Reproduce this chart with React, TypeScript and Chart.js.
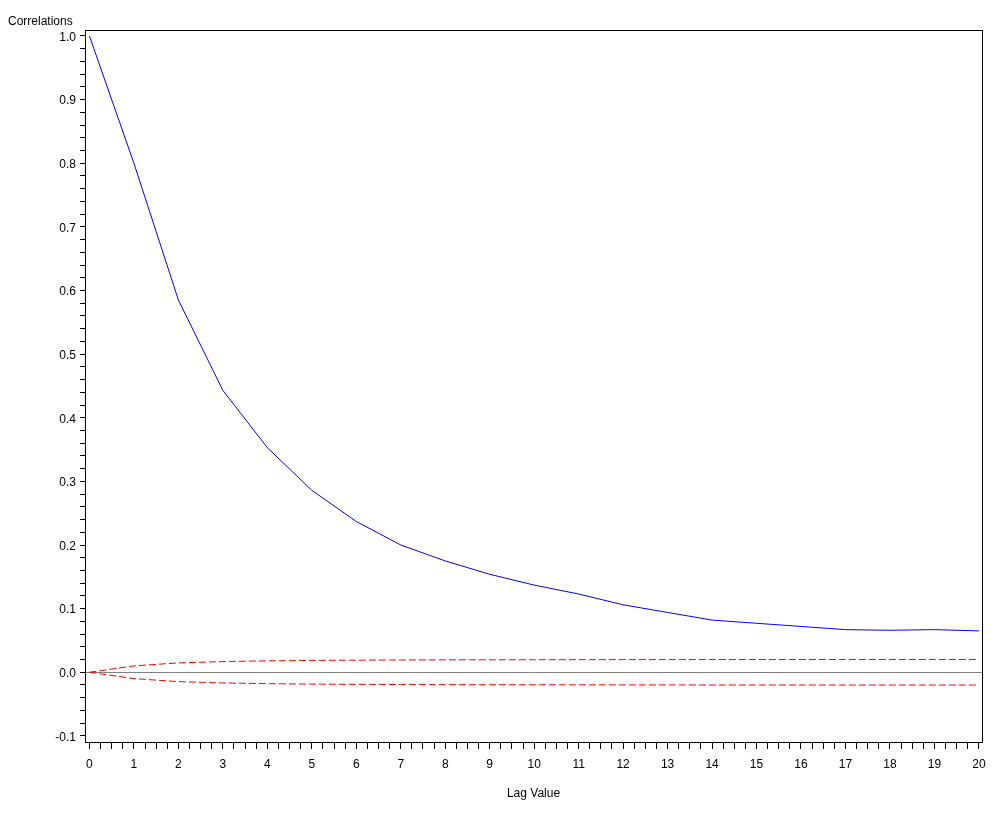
import React, { useEffect, useRef } from 'react';
import { Chart, registerables } from 'chart.js';

Chart.register(...registerables);

// ---- Data ----
const lags = [0, 1, 2, 3, 4, 5, 6, 7, 8, 9, 10, 11, 12, 13, 14, 15, 16, 17, 18, 19, 20];
const correlations = [1.0, 0.8, 0.585, 0.443, 0.353, 0.286, 0.237, 0.2, 0.175, 0.154, 0.137, 0.123, 0.106, 0.094, 0.082, 0.077, 0.072, 0.067, 0.066, 0.067, 0.065];
const upperBand = [0, 0.01, 0.0147, 0.0168, 0.0179, 0.0186, 0.019, 0.0193, 0.0195, 0.0196, 0.0197, 0.0198, 0.0199, 0.0199, 0.02, 0.02, 0.02, 0.0201, 0.0201, 0.0201, 0.0201];
const lowerBand = [0, -0.01, -0.0147, -0.0168, -0.0179, -0.0186, -0.019, -0.0193, -0.0195, -0.0196, -0.0197, -0.0198, -0.0199, -0.0199, -0.02, -0.02, -0.02, -0.0201, -0.0201, -0.0201, -0.0201];

// ---- Ticks ----
const yMajorTicks = [-0.1, 0, 0.1, 0.2, 0.3, 0.4, 0.5, 0.6, 0.7, 0.8, 0.9, 1.0];
const yTickLabels = ['-0.1', '0.0', '0.1', '0.2', '0.3', '0.4', '0.5', '0.6', '0.7', '0.8', '0.9', '1.0'];
const yMinorDivisions = 5;
const xMajorTicks = [0, 1, 2, 3, 4, 5, 6, 7, 8, 9, 10, 11, 12, 13, 14, 15, 16, 17, 18, 19, 20];
const xTickLabels = ['0', '1', '2', '3', '4', '5', '6', '7', '8', '9', '10', '11', '12', '13', '14', '15', '16', '17', '18', '19', '20'];
const xMinorDivisions = 4;

const Y_MIN = -0.1096;
const Y_MAX = 1.0094;
const X_MIN = -0.1;
const X_MAX = 20.07;

const FONT = '"Liberation Sans", Arial, sans-serif';

function withMinor(majors: number[], div: number) {
  const out: { value: number }[] = [];
  for (let i = 0; i < majors.length; i++) {
    out.push({ value: majors[i] });
    if (i < majors.length - 1) {
      const step = (majors[i + 1] - majors[i]) / div;
      for (let k = 1; k < div; k++) out.push({ value: majors[i] + k * step });
    }
  }
  return out;
}

function labelFor(value: number, majors: number[], labels: string[]) {
  for (let i = 0; i < majors.length; i++) {
    if (Math.abs(majors[i] - value) < 1e-6) return labels[i];
  }
  return '';
}

const chartDecor = {
  id: 'chartDecor',
  beforeDatasetsDraw(chart: any) {
    const { ctx, chartArea, scales } = chart;
    const y0 = Math.round(scales.y.getPixelForValue(0)) + 0.5;
    ctx.save();
    ctx.strokeStyle = '#808080';
    ctx.lineWidth = 1;
    ctx.beginPath();
    ctx.moveTo(chartArea.left, y0);
    ctx.lineTo(chartArea.right, y0);
    ctx.stroke();
    ctx.restore();
  },
  afterDraw(chart: any) {
    const { ctx, chartArea } = chart;
    ctx.save();
    ctx.strokeStyle = '#000';
    ctx.lineWidth = 1;
    const l = Math.round(chartArea.left) + 0.5;
    const t = Math.round(chartArea.top) + 0.5;
    const r = Math.round(chartArea.right) + 0.5;
    const b = Math.round(chartArea.bottom) + 0.5;
    ctx.strokeRect(l, t, r - l, b - t);
    ctx.fillStyle = '#000';
    ctx.font = '12px ' + FONT;
    ctx.textAlign = 'left';
    ctx.textBaseline = 'middle';
    ctx.fillText('Correlations', 8, 22);
    ctx.restore();
  },
};

export default function App() {
  const canvasRef = useRef<HTMLCanvasElement | null>(null);

  useEffect(() => {
    if (!canvasRef.current) return;
    const chart = new Chart(canvasRef.current, {
      type: 'line',
      data: {
        datasets: [
          {
            label: 'Correlations',
            data: lags.map((x, i) => ({ x, y: correlations[i] })),
            borderColor: '#0000ff',
            borderWidth: 1,
            pointRadius: 0,
            tension: 0,
            fill: false,
          },
          {
            label: 'Upper',
            data: lags.map((x, i) => ({ x, y: upperBand[i] })),
            borderColor: '#ff0000',
            borderWidth: 1,
            borderDash: [7, 3],
            pointRadius: 0,
            tension: 0,
            fill: false,
          },
          {
            label: 'Lower',
            data: lags.map((x, i) => ({ x, y: lowerBand[i] })),
            borderColor: '#ff0000',
            borderWidth: 1,
            borderDash: [7, 3],
            pointRadius: 0,
            tension: 0,
            fill: false,
          },
        ],
      },
      options: {
        animation: false,
        responsive: false,
        maintainAspectRatio: false,
        layout: { padding: { left: 0, top: 30, right: 18, bottom: 0 } },
        plugins: {
          legend: { display: false },
          tooltip: { enabled: false },
          title: { display: false },
        },
        scales: {
          x: {
            type: 'linear',
            min: X_MIN,
            max: X_MAX,
            afterBuildTicks: (scale: any) => {
              scale.ticks = withMinor(xMajorTicks, xMinorDivisions);
            },
            afterFit: (scale: any) => {
              scale.height = 77;
            },
            grid: {
              display: true,
              drawOnChartArea: false,
              drawTicks: true,
              tickLength: 7,
              color: '#000',
              lineWidth: 1,
            },
            border: { display: true, color: '#000', width: 1 },
            ticks: {
              autoSkip: false,
              maxRotation: 0,
              minRotation: 0,
              padding: 8,
              color: '#000',
              font: { family: FONT, size: 12 },
              callback: (v: any) => labelFor(Number(v), xMajorTicks, xTickLabels),
            },
            title: {
              display: true,
              text: 'Lag Value',
              color: '#000',
              font: { family: FONT, size: 12 },
              padding: { top: 0, bottom: 18 },
            },
          },
          y: {
            type: 'linear',
            min: Y_MIN,
            max: Y_MAX,
            afterBuildTicks: (scale: any) => {
              scale.ticks = withMinor(yMajorTicks, yMinorDivisions);
            },
            afterFit: (scale: any) => {
              scale.width = 85;
            },
            grid: {
              display: true,
              drawOnChartArea: false,
              drawTicks: true,
              tickLength: 5,
              color: '#000',
              lineWidth: 1,
            },
            border: { display: true, color: '#000', width: 1 },
            ticks: {
              autoSkip: false,
              padding: 4,
              labelOffset: 1.5,
              color: '#000',
              font: { family: FONT, size: 12 },
              callback: (v: any) => labelFor(Number(v), yMajorTicks, yTickLabels),
            },
          },
        },
      },
      plugins: [chartDecor],
    } as any);
    return () => chart.destroy();
  }, []);

  return (
    <div style={{ position: 'fixed', left: 0, top: 0, width: 1000, height: 819, background: '#fff' }}>
      <canvas ref={canvasRef} width={1000} height={819} style={{ width: 1000, height: 819, display: 'block' }} />
    </div>
  );
}
